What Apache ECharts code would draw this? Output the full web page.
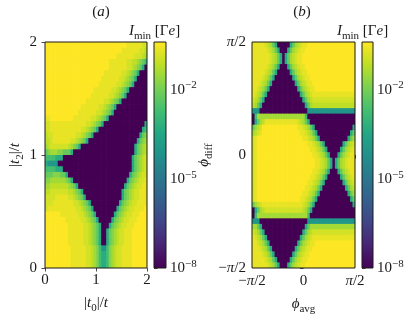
<!DOCTYPE html>
<html>
<head>
<meta charset="utf-8">
<script src="https://cdn.jsdelivr.net/npm/echarts@6.0.0/dist/echarts.min.js"></script>
<style>
html,body{margin:0;padding:0;background:#ffffff;}
#chart{width:415px;height:321px;}
</style>
</head>
<body>
<div id="chart"></div>
<script>
// ---------------- data ----------------
// each character of a row is one cell; it encodes log10(I_min) through LEVEL_LOG10
const LEVEL_CHARS = "0123456789a";
const LEVEL_LOG10 = [-8, -4.0, -3.3, -2.7, -2.2, -1.8, -1.45, -1.15, -0.9, -0.65, -0.4];
const VIRIDIS = ['#440154','#482475','#414487','#355f8d','#2a788e','#21918c','#22a884','#44bf70','#7ad151','#bddf26','#fde725'];
const COLOR_RANGE = [-8, -0.4];
const COLOR_TICKS = [-8, -5, -2];

// panel (a): |t0|/t horizontally, |t2|/t vertically, 0..2, 40 x 40 cells
const A_EXTENT = [0, 2];
const A_TICK_STEP = 1;
const A_CELL = 0.05;
// rows listed from the top (|t2| = 2) to the bottom (|t2| = 0)
const ROWS_A = [
  "aaaaaaaaaa"+"aaaaaaaaaa"+"aaaaaaaaaa"+"aa"+"99999988",
  "aaaaaaaaaa"+"aaaaaaaaaa"+"aaaaaaaaaa"+"9999999887",
  "aaaaaaaaaa"+"aaaaaaaaaa"+"aaaaaaaa"+"999999988876",
  "aaaaaaaaaa"+"aaaaaaaaaa"+"aaaaa"+"999999988776543",
  "aaaaaaaaaa"+"aaaaaaaaaa"+"aaaaa"+"99999998876542"+"0",
  "aaaaaaaaaa"+"aaaaaaaaaa"+"aaa"+"99999998876542"+"000",
  "aaaaaaaaaa"+"aaaaaaaaaa"+"aa"+"99999998876542"+"0000",
  "aaaaaaaaaa"+"aaaaaaaaaa"+"a"+"99999998876542"+"00000",
  "aaaaaaaaaa"+"aaaaaaaaa"+"99999998876542"+"0000000",
  "aaaaaaaaaa"+"aaaaaaaa"+"99999998876542"+"00000000",
  "aaaaaaaaaa"+"aaaaaa"+"99999998876542"+"0000000000",
  "aaaaaaaaaa"+"aaaa"+"99999998876542"+"0000000000"+"00",
  "aaaaaaaaaa"+"aaa"+"99999998876542"+"0000000000"+"000",
  "99"+"aaaaaaaaa"+"99999998876542"+"0000000000"+"00000",
  "88"+"9999999"+"99999998876542"+"0000000000"+"000000"+"2",
  "88"+"9999999999"+"99"+"88"+"76542"+"0000000000"+"0000000"+"23",
  "788"+"999999999"+"88"+"76542"+"0000000000"+"00000000"+"245",
  "778"+"9999999"+"88"+"76542"+"0000000000"+"000000000"+"2456",
  "67"+"8888888"+"76542"+"0000000000"+"0000000000"+"0"+"24567",
  "45666554442"+"0000000000"+"0000000000"+"0000"+"24567",
  "3333222"+"0000000000"+"0000000000"+"0000000"+"245678",
  "21111"+"0000000000"+"0000000000"+"000000000"+"245678",
  "3333222"+"0000000000"+"0000000000"+"0000000"+"245678",
  "444555442"+"0000000000"+"0000000000"+"0000"+"2456788",
  "55"+"666666"+"542"+"0000000000"+"0000000000"+"0"+"24567889",
  "66"+"7777777"+"6542"+"0000000000"+"00000000"+"245678899",
  "77"+"8888888"+"77"+"6542"+"0000000000"+"00000"+"2456788999",
  "8888"+"99999"+"88"+"76542"+"0000000000"+"0000"+"2456788999",
  "888"+"99999999"+"88"+"76542"+"0000000000"+"0"+"24567889999",
  "8"+"9999999999"+"9"+"88"+"76542"+"000000000"+"24567889999a",
  "aaaaaa"+"9999999"+"88"+"76542"+"0000000"+"2456788999aaa",
  "aaaaaaaa"+"999999"+"88"+"76542"+"00000"+"2456788999aaaa",
  "aaaaaaaaa"+"999999"+"88"+"76542"+"000"+"2456788999aaaaa",
  "aaaaaaaaa"+"999999"+"88"+"76542"+"00"+"2456788999aaaaaa",
  "aaaaaaaaa"+"999999"+"88"+"76542"+"00"+"2456788999aaaaaa",
  "aaaaaaaaa"+"999999"+"88"+"76542"+"00"+"2456788999aaaaaa",
  "aaaaaaaaaa"+"999999"+"887653"+"11"+"356788"+"9999"+"aaaaaa",
  "aaaaaaaaaa"+"999999"+"887653"+"22"+"356788"+"9999"+"aaaaaa",
  "aaaaaaaaaa"+"999999"+"887653"+"22"+"356788"+"9999"+"aaaaaa",
  "aaaaaaaaaa"+"999999"+"887653"+"22"+"356788"+"9999"+"aaaaaa"
];

// panel (b): phi_avg horizontally, phi_diff vertically, in units of pi (-1/2..1/2), 41 x 41 cells
const B_EXTENT = [-0.5, 0.5];
const B_TICK_STEP = 0.5;
const B_CELL = 1 / 41;
// rows listed from the top (phi_diff = pi/2) to the bottom (phi_diff = -pi/2)
const ROWS_B = [
  "9999987642"+"00000"+"24678"+"99"+"aaaaaaaaaa"+"aaaaaaaaa",
  "99999987642"+"000"+"24678"+"99"+"aaaaaaaaaa"+"aaaaaaaaaa",
  "999999987642"+"0"+"24678"+"99"+"aaaaaaaaaa"+"aaaaaaaaaa"+"a",
  "999999987642"+"0"+"24678"+"99"+"aaaaaaaaaa"+"aaaaaaaaaa"+"a",
  "99999987642"+"000"+"24678"+"99"+"aaaaaaaaaa"+"aaaaaaaaaa",
  "9999987642"+"00000"+"24678"+"99"+"aaaaaaaaaa"+"aaaaaaaaa",
  "999987642"+"0000000"+"24678"+"99"+"aaaaaaaaaa"+"aaaaaaaa",
  "99987642"+"000000000"+"24678"+"99"+"aaaaaaaaaa"+"aaaaaaa",
  "9987642"+"00000000000"+"24678"+"99"+"aaaaaaaaaa"+"aaaaaa",
  "987642"+"0000000000"+"000"+"24678"+"9999999999"+"9999999",
  "87642"+"0000000000"+"00000"+"2467"+"8888888888"+"8888888",
  "7642"+"0000000000"+"0000000"+"246"+"7777777777"+"7777777",
  "111"+"0000000000"+"000000000"+"1111111111"+"111111111",
  "03"+"6666666666"+"666666666"+"3"+"0000000000"+"000000000",
  "02467"+"9999999999"+"999"+"87642"+"0000000000"+"00000000",
  "4678"+"aaaaaaaaaa"+"aaaa"+"99"+"87642"+"0000000000"+"00000"+"2",
  "6789"+"aaaaaaaaaa"+"aaaaa"+"99"+"87642"+"0000000000"+"000"+"24",
  "89"+"aaaaaaaaaa"+"aaaaaaaa"+"99"+"87642"+"0000000000"+"0"+"246",
  "89"+"aaaaaaaaaa"+"aaaaaaaaaa"+"99"+"87642"+"0000000"+"24678",
  "89"+"aaaaaaaaaa"+"aaaaaaaaaa"+"a"+"99"+"87642"+"00000"+"246789",
  "89"+"aaaaaaaaaa"+"aaaaaaaaaa"+"aa"+"99"+"87642"+"000"+"2467899",
  "89"+"aaaaaaaaaa"+"aaaaaaaaaa"+"aaa"+"99"+"87642"+"0"+"24678999",
  "89"+"aaaaaaaaaa"+"aaaaaaaaaa"+"aaa"+"99"+"87642"+"0"+"24678999",
  "89"+"aaaaaaaaaa"+"aaaaaaaaaa"+"aa"+"99"+"87642"+"000"+"2467899",
  "89"+"aaaaaaaaaa"+"aaaaaaaaaa"+"a"+"99"+"87642"+"00000"+"246789",
  "89"+"aaaaaaaaaa"+"aaaaaaaaaa"+"99"+"87642"+"0000000"+"24678",
  "89"+"aaaaaaaaaa"+"aaaaaaaaa"+"99"+"87642"+"000000000"+"2467",
  "89"+"aaaaaaaaaa"+"aaaaaaaa"+"99"+"87642"+"0000000000"+"0"+"246",
  "89"+"aaaaaaaaaa"+"aaaaaaa"+"99"+"87642"+"0000000000"+"000"+"24",
  "4678"+"9999999999"+"999999"+"87642"+"0000000000"+"00000"+"2",
  "02467"+"8888888888"+"8888"+"87642"+"0000000000"+"0000000",
  "03"+"6666666666"+"6666666666"+"3"+"0000000000"+"00000000",
  "111"+"0000000000"+"000000000"+"1111111111"+"111111111",
  "6642"+"0000000000"+"0000000"+"24"+"6666666666"+"66666666",
  "87642"+"0000000000"+"00000"+"2467"+"8888888888"+"8888888",
  "987642"+"0000000000"+"000"+"24678"+"9999999999"+"9999999",
  "9987642"+"00000000000"+"24678"+"99"+"aaaaaaaaaa"+"aaaaaa",
  "99987642"+"000000000"+"24678"+"99"+"aaaaaaaaaa"+"aaaaaaa",
  "999987642"+"0000000"+"24678"+"99"+"aaaaaaaaaa"+"aaaaaaaa",
  "9999987642"+"00000"+"24678"+"99"+"aaaaaaaaaa"+"aaaaaaaaa",
  "99999987642"+"000"+"24678"+"99"+"aaaaaaaaaa"+"aaaaaaaaaa"
];

// ---------------- build ----------------
const INK = '#1a1a1a';
const FONT = "'Liberation Serif', 'DejaVu Serif', serif";

function cellsFrom(rows, x0, y0, cell) {
  const out = [];
  const n = rows.length;
  rows.forEach((row, k) => {
    const j = n - 1 - k;
    for (let i = 0; i < row.length; i++) {
      out.push([x0 + i * cell, y0 + j * cell, LEVEL_LOG10[LEVEL_CHARS.indexOf(row[i])]]);
    }
  });
  return out;
}

function cellItem(cell) {
  return function (params, api) {
    const x = api.value(0), y = api.value(1);
    const a = api.coord([x, y]);
    const b = api.coord([x + cell, y + cell]);
    return {
      type: 'rect',
      shape: {x: a[0], y: b[1], width: b[0] - a[0] + 0.7, height: a[1] - b[1] + 0.7},
      style: {fill: api.visual('color')}
    };
  };
}

const gradStops = VIRIDIS.map((c, i) => ({offset: i / (VIRIDIS.length - 1), color: c}));
function colorbarItem(params, api) {
  const lo = api.coord([0, api.value(0)]);
  const hi = api.coord([1, api.value(1)]);
  return {
    type: 'rect',
    shape: {x: lo[0], y: hi[1], width: hi[0] - lo[0], height: lo[1] - hi[1]},
    style: {fill: new echarts.graphic.LinearGradient(0, 1, 0, 0, gradStops)}
  };
}

function rich(size, lh) {
  const s = Math.round(size * 0.72);
  return {
    rm: {fontFamily: FONT, fontSize: size, color: INK, fill: INK, lineHeight: lh},
    it: {fontFamily: FONT, fontStyle: 'italic', fontSize: size, color: INK, fill: INK, lineHeight: lh},
    sub: {fontFamily: FONT, fontSize: s, color: INK, fill: INK, verticalAlign: 'bottom', lineHeight: s + 1},
    sup: {fontFamily: FONT, fontSize: s, color: INK, fill: INK, verticalAlign: 'top', lineHeight: s + 1}
  };
}
const R15 = rich(15, 21);
const R15T = rich(15, 19);

const tickStyle = {show: true, length: 3.5, lineStyle: {color: INK, width: 0.8}};
const gridBase = {show: true, z: 10, borderColor: INK, borderWidth: 1, backgroundColor: 'rgba(0,0,0,0)'};

const bLabel = v => (Math.abs(v) < 1e-9 ? '{rm|0}' : (v < 0 ? '{rm|−}{it|π}{rm|/2}' : '{it|π}{rm|/2}'));
const nameStyle = {rich: R15, lineHeight: 21, fontFamily: FONT, fontSize: 15, color: INK};

const option = {
  animation: false,
  backgroundColor: '#ffffff',
  grid: [
    Object.assign({left: 45, top: 42, width: 102, height: 226}, gridBase),
    Object.assign({left: 252, top: 42, width: 103, height: 226}, gridBase),
    Object.assign({left: 154, top: 42, width: 12, height: 226}, gridBase),
    Object.assign({left: 362, top: 42, width: 11, height: 226}, gridBase)
  ],
  xAxis: [
    {gridIndex: 0, type: 'value', min: A_EXTENT[0], max: A_EXTENT[1], interval: A_TICK_STEP,
     axisLine: {show: false}, axisTick: tickStyle, splitLine: {show: false},
     axisLabel: {fontFamily: FONT, fontSize: 15, color: INK, margin: 5},
     name: '{rm||}{it|t}{sub|0}{rm||/}{it|t}', nameLocation: 'middle', nameGap: 21,
     nameTextStyle: nameStyle},
    {gridIndex: 1, type: 'value', min: B_EXTENT[0], max: B_EXTENT[1], interval: B_TICK_STEP,
     axisLine: {show: false}, axisTick: tickStyle, splitLine: {show: false},
     axisLabel: {formatter: bLabel, rich: R15T, margin: 4},
     name: '{it|ϕ}{sub|avg}', nameLocation: 'middle', nameGap: 24,
     nameTextStyle: nameStyle},
    {gridIndex: 2, type: 'value', min: 0, max: 1, show: false},
    {gridIndex: 3, type: 'value', min: 0, max: 1, show: false}
  ],
  yAxis: [
    {gridIndex: 0, type: 'value', min: A_EXTENT[0], max: A_EXTENT[1], interval: A_TICK_STEP,
     axisLine: {show: false}, axisTick: tickStyle, splitLine: {show: false},
     axisLabel: {fontFamily: FONT, fontSize: 15, color: INK, margin: 8},
     name: '{rm||}{it|t}{sub|2}{rm||/}{it|t}', nameLocation: 'middle', nameGap: 19,
     nameTextStyle: nameStyle},
    {gridIndex: 1, type: 'value', min: B_EXTENT[0], max: B_EXTENT[1], interval: B_TICK_STEP,
     axisLine: {show: false}, axisTick: tickStyle, splitLine: {show: false},
     axisLabel: {formatter: bLabel, rich: R15T, margin: 6},
     name: '{it|ϕ}{sub|diff}', nameLocation: 'middle', nameGap: 27,
     nameTextStyle: nameStyle},
    {gridIndex: 2, type: 'value', position: 'right', min: COLOR_RANGE[0], max: COLOR_RANGE[1],
     axisLine: {show: false}, splitLine: {show: false},
     axisTick: Object.assign({customValues: COLOR_TICKS}, tickStyle),
     axisLabel: {customValues: COLOR_TICKS, margin: 4, rich: R15T,
       formatter: v => '{rm|10}{sup|−' + Math.abs(Math.round(v)) + '}'}},
    {gridIndex: 3, type: 'value', position: 'right', min: COLOR_RANGE[0], max: COLOR_RANGE[1],
     axisLine: {show: false}, splitLine: {show: false},
     axisTick: Object.assign({customValues: COLOR_TICKS}, tickStyle),
     axisLabel: {customValues: COLOR_TICKS, margin: 4, rich: R15T,
       formatter: v => '{rm|10}{sup|−' + Math.abs(Math.round(v)) + '}'}}
  ],
  visualMap: [{
    type: 'continuous', show: false, min: COLOR_RANGE[0], max: COLOR_RANGE[1],
    dimension: 2, seriesIndex: [0, 1], inRange: {color: VIRIDIS}
  }],
  series: [
    {type: 'custom', xAxisIndex: 0, yAxisIndex: 0, clip: true, renderItem: cellItem(A_CELL),
     data: cellsFrom(ROWS_A, A_EXTENT[0], A_EXTENT[0], A_CELL), encode: {x: 0, y: 1}},
    {type: 'custom', xAxisIndex: 1, yAxisIndex: 1, clip: true, renderItem: cellItem(B_CELL),
     data: cellsFrom(ROWS_B, B_EXTENT[0], B_EXTENT[0], B_CELL), encode: {x: 0, y: 1}},
    {type: 'custom', xAxisIndex: 2, yAxisIndex: 2, renderItem: colorbarItem,
     data: [[COLOR_RANGE[0], COLOR_RANGE[1]]]},
    {type: 'custom', xAxisIndex: 3, yAxisIndex: 3, renderItem: colorbarItem,
     data: [[COLOR_RANGE[0], COLOR_RANGE[1]]]}
  ],
  graphic: [
    {type: 'text', x: 101, y: 12, style: {text: '{rm|(}{it|a}{rm|)}', rich: R15, align: 'center', textAlign: 'center', verticalAlign: 'middle', textVerticalAlign: 'middle', fill: INK}},
    {type: 'text', x: 302, y: 12, style: {text: '{rm|(}{it|b}{rm|)}', rich: R15, align: 'center', textAlign: 'center', verticalAlign: 'middle', textVerticalAlign: 'middle', fill: INK}},
    {type: 'text', x: 129, y: 31, style: {text: '{it|I}{sub|min}{rm| [Γ}{it|e}{rm|]}', rich: R15, align: 'left', textAlign: 'left', verticalAlign: 'middle', textVerticalAlign: 'middle', fill: INK}},
    {type: 'text', x: 337, y: 31, style: {text: '{it|I}{sub|min}{rm| [Γ}{it|e}{rm|]}', rich: R15, align: 'left', textAlign: 'left', verticalAlign: 'middle', textVerticalAlign: 'middle', fill: INK}}
  ]
};

const chart = echarts.init(document.getElementById('chart'), null, {renderer: 'canvas'});
chart.setOption(option);

const bad = [];
ROWS_A.forEach((r, k) => { if (r.length !== 40) bad.push('A' + k + ':' + r.length); });
ROWS_B.forEach((r, k) => { if (r.length !== 41) bad.push('B' + k + ':' + r.length); });
if (bad.length) setTimeout(() => { throw new Error('bad rows ' + bad.join(',')); }, 0);
</script>
</body>
</html>
